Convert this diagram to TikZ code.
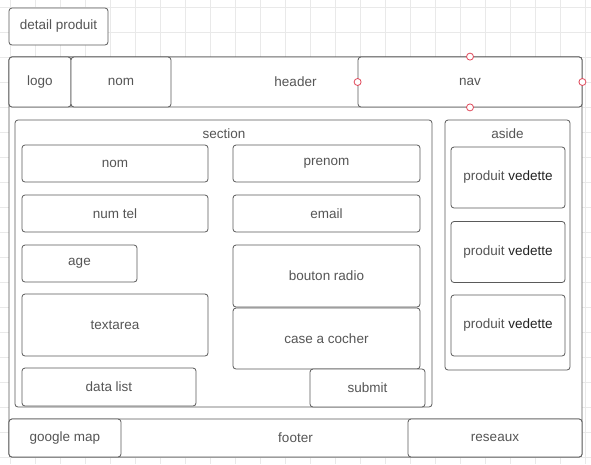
\documentclass[tikz,border=0pt]{standalone}
\usepackage{fontspec}
\setmainfont{Liberation Sans}
\definecolor{trait}{HTML}{5A5A5A}
\definecolor{texte}{HTML}{555555}
\definecolor{noir}{HTML}{222222}
\definecolor{grille}{HTML}{E9E9E9}
\definecolor{rouge}{HTML}{E0485A}

\begin{document}
\begin{tikzpicture}[x=1pt,y=-1pt,
  boite/.style={draw=trait,fill=white,rounded corners=3pt,line width=0.8pt,inner sep=0pt,
    text=texte,font=\fontsize{13.5}{16}\selectfont},
  titre/.style={inner sep=0pt,text=texte,font=\fontsize{13.5}{16}\selectfont},
  poignee/.style={circle,draw=rouge,fill=white,minimum size=7pt,inner sep=0pt,line width=0.8pt}]
\useasboundingbox[fill=white] (0,0) rectangle (591,464);
% grille de fond
\foreach \x in {10,35,...,585} \draw[grille,line width=0.6pt] (\x,0) -- (\x,464);
\foreach \y in {7.5,32.5,...,460} \draw[grille,line width=0.6pt] (0,\y) -- (591,\y);

\node[boite,minimum width=99pt,minimum height=37pt] (detail) at (58.5,26.5) {detail produit};

% page
\node[boite,minimum width=573pt,minimum height=400pt] (page) at (295.5,257) {};
\node[boite,minimum width=573pt,minimum height=50pt] (header) at (295.5,82) {header};
\node[boite,minimum width=62pt,minimum height=50pt] (logo) at (40,82) {logo};
\node[boite,minimum width=100pt,minimum height=50pt] (nom) at (121,82) {nom};
\node[boite,minimum width=224pt,minimum height=50pt] (nav) at (470,82) {nav};
\foreach \a in {north,west,east,south} \node[poignee] at (nav.\a) {};

% section
\node[boite,minimum width=417pt,minimum height=287pt] (section) at (223.5,263.5) {};
\node[titre] (lsection) at (224,134) {section};
\node[boite,minimum width=186pt,minimum height=37pt] (snom) at (115,163.5) {nom};
\node[boite,minimum width=186pt,minimum height=37pt] (numtel) at (115,213.5) {num tel};
\node[boite,minimum width=115pt,minimum height=37pt] (age) at (79.5,263.5) {age};
\node[boite,minimum width=186pt,minimum height=62pt] (textarea) at (115,325) {textarea};
\node[boite,minimum width=174pt,minimum height=38pt] (datalist) at (109,387) {data list};
\node[boite,minimum width=187pt,minimum height=37pt] (prenom) at (326.5,163.5) {prenom};
\node[boite,minimum width=187pt,minimum height=37pt] (email) at (326.5,213.5) {email};
\node[boite,minimum width=187pt,minimum height=62pt] (radio) at (326.5,276) {bouton radio};
\node[boite,minimum width=187pt,minimum height=61pt] (cocher) at (326.5,338.5) {case a cocher};
\node[boite,minimum width=115pt,minimum height=38pt] (submit) at (367.5,388) {submit};

% aside
\node[boite,minimum width=125pt,minimum height=250pt] (aside) at (507.5,245) {};
\node[titre] (laside) at (507.5,134) {aside};
\foreach \y/\n in {177.5/1,252/2,325.5/3}
  \node[boite,minimum width=114pt,minimum height=61pt] (vedette\n) at (508,\y) {produit \textcolor{noir}{vedette}};

% footer
\node[boite,minimum width=573pt,minimum height=38pt] (footer) at (295.5,438) {footer};
\node[boite,minimum width=112pt,minimum height=38pt] (gmap) at (65,438) {google map};
\node[boite,minimum width=174pt,minimum height=38pt] (reseaux) at (495,438) {reseaux};
\end{tikzpicture}
\end{document}
